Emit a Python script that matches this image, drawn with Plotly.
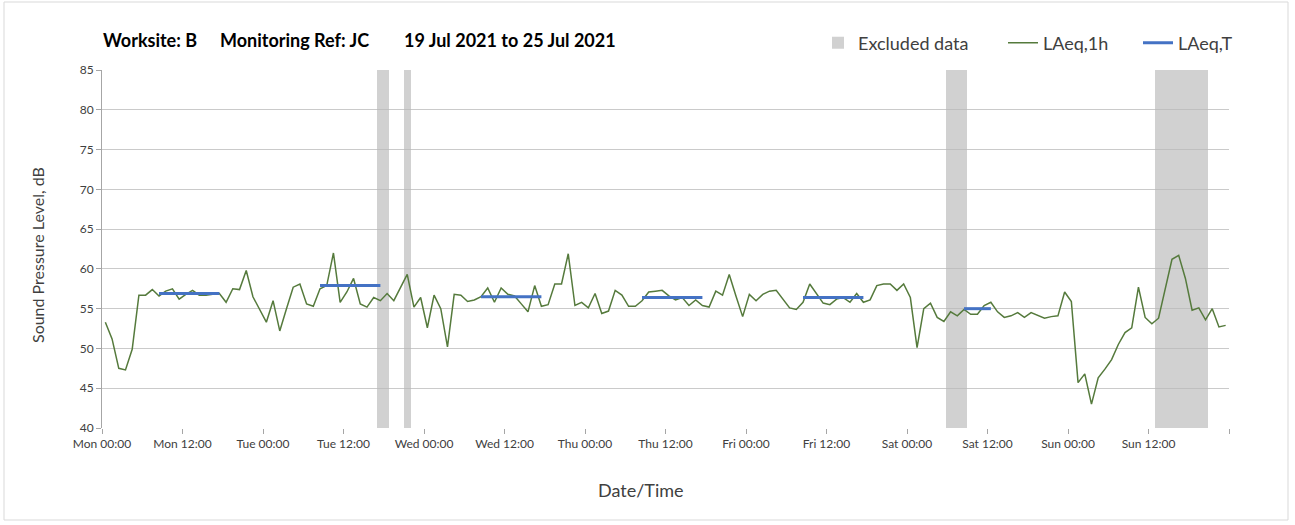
import plotly.graph_objects as go

# ---------------- data ----------------
hours = [i + 0.5 for i in range(168)]  # hour offset from Mon 19 Jul 2021 00:00
laeq_1h = [
    53.3, 51.2, 47.5, 47.3, 49.9, 56.7, 56.7, 57.4, 56.6, 57.2, 57.5, 56.2,
    56.8, 57.3, 56.7, 56.7, 56.8, 56.9, 55.8, 57.5, 57.4, 59.8, 56.5, 54.8,
    53.3, 56.0, 52.2, 55.0, 57.7, 58.1, 55.6, 55.3, 57.5, 57.9, 62.0, 55.8,
    57.1, 58.8, 55.6, 55.2, 56.4, 56.0, 56.9, 56.0, 57.7, 59.3, 55.2, 56.4,
    52.6, 56.7, 55.0, 50.2, 56.8, 56.7, 55.9, 56.1, 56.5, 57.6, 55.8, 57.6,
    56.8, 56.6, 55.6, 54.6, 57.9, 55.3, 55.5, 58.1, 58.1, 61.9, 55.4, 55.8,
    55.1, 56.9, 54.4, 54.7, 57.3, 56.7, 55.3, 55.3, 56.0, 57.1, 57.2, 57.3,
    56.6, 56.1, 56.4, 55.4, 56.1, 55.4, 55.2, 57.2, 56.7, 59.3, 56.6, 54.0,
    56.8, 56.0, 56.8, 57.2, 57.3, 56.2, 55.1, 54.9, 55.8, 58.1, 56.9, 55.7,
    55.5, 56.2, 56.4, 55.8, 56.9, 55.8, 56.1, 57.9, 58.1, 58.1, 57.3, 58.1,
    56.4, 50.1, 55.0, 55.7, 53.9, 53.4, 54.6, 54.1, 54.9, 54.3, 54.3, 55.4,
    55.8, 54.6, 53.9, 54.1, 54.5, 53.9, 54.5, 54.1, 53.8, 54.0, 54.1, 57.1,
    55.9, 45.7, 46.8, 43.0, 46.3, 47.4, 48.6, 50.5, 52.0, 52.6, 57.7, 53.9,
    53.1, 53.8, 57.5, 61.2, 61.7, 58.8, 54.8, 55.1, 53.6, 55.0, 52.7, 52.9,
]

# LAeq,T periods (hours from Monday 00:00) and levels
laeqT_start = [8.5, 32.5, 56.5, 80.5, 104.5, 128.5]
laeqT_end = [17.5, 41.5, 65.5, 89.5, 113.5, 132.5]
laeqT_value = [56.9, 57.9, 56.5, 56.4, 56.4, 55.0]

# Excluded data periods (hours from Monday 00:00)
excl_start = [41.0, 45.0, 125.8, 156.9]
excl_end = [42.8, 46.0, 128.9, 164.8]

# x tick labels
tick_hours = [0, 12, 24, 36, 48, 60, 72, 84, 96, 108, 120, 132, 144, 156, 168]
tick_labels = ["Mon 00:00", "Mon 12:00", "Tue 00:00", "Tue 12:00", "Wed 00:00",
               "Wed 12:00", "Thu 00:00", "Thu 12:00", "Fri 00:00", "Fri 12:00",
               "Sat 00:00", "Sat 12:00", "Sun 00:00", "Sun 12:00", ""]
grid_hours = [0, 24, 48, 72, 96, 120, 144, 168]

y_min, y_max = 40, 85

FONT = "Lato"
TXT = "#404040"

fig = go.Figure()

# excluded bands as bars
fig.add_trace(go.Bar(
    x=[(s + e) / 2 for s, e in zip(excl_start, excl_end)],
    y=[y_max - y_min] * len(excl_start),
    base=[y_min] * len(excl_start),
    width=[e - s for s, e in zip(excl_start, excl_end)],
    marker=dict(color="rgba(185,185,185,0.65)", line=dict(width=0)),
    name="Excluded data", hoverinfo="skip", xaxis="x2", legend="legend",
))

fig.add_trace(go.Scatter(
    x=hours, y=laeq_1h, mode="lines", name="LAeq,1h",
    line=dict(color="#557A3C", width=1.5), xaxis="x2", legend="legend2",
))

tx, ty = [], []
for s, e, v in zip(laeqT_start, laeqT_end, laeqT_value):
    tx += [s, e, None]
    ty += [v, v, None]
fig.add_trace(go.Scatter(
    x=tx, y=ty, mode="lines", name="LAeq,T",
    line=dict(color="#4472C4", width=3), xaxis="x2", legend="legend3",
))

# plot-area geometry in px (for paper-coordinate conversions)
PX_L, PX_R, PX_T, PX_B = 102, 1229, 70, 428
W, H = PX_R - PX_L, PX_B - PX_T


def px(xp):
    return (xp - PX_L) / W


def py(yp):
    return (PX_B - yp) / H


def leg(text_x):
    return dict(
        orientation="h", x=px(text_x - 40), xanchor="left", y=py(43),
        yanchor="middle", font=dict(size=18, color=TXT, family=FONT),
        bgcolor="rgba(0,0,0,0)", borderwidth=0, itemwidth=30,
    )


fig.update_layout(
    width=1295, height=525,
    margin=dict(l=PX_L, r=1295 - PX_R, t=PX_T, b=525 - PX_B),
    paper_bgcolor="white", plot_bgcolor="white",
    font=dict(family=FONT, color=TXT),
    barmode="overlay", bargap=0,
    xaxis=dict(
        range=[0, 168], tickvals=grid_hours, showticklabels=False, ticks="",
        showgrid=True, gridcolor="#D9D9D9", gridwidth=1, zeroline=False,
        showline=True, linecolor="#A6A6A6", linewidth=1,
    ),
    xaxis2=dict(
        range=[0, 168], overlaying="x", anchor="y", side="bottom",
        tickvals=tick_hours, ticktext=tick_labels, ticks="outside", ticklen=5,
        tickcolor="#A6A6A6", showgrid=False, zeroline=False, showline=False,
        tickfont=dict(size=12, color=TXT, family=FONT),
    ),
    yaxis=dict(
        range=[y_min, y_max], dtick=5, tick0=40, showgrid=True,
        gridcolor="#CACACA", gridwidth=1, zeroline=False,
        showline=True, linecolor="#A6A6A6", ticks="outside", ticklen=5,
        tickcolor="#A6A6A6", tickfont=dict(size=12, color=TXT, family=FONT),
    ),
    legend=leg(858),
    legend2=leg(1043),
    legend3=leg(1178),
    showlegend=True,
)

# titles
title_font = dict(size=18, color="#000000", family=FONT)
fig.add_annotation(text="<b>Worksite: B</b>", xref="paper", yref="paper",
                   x=px(101), y=py(40), xanchor="left", yanchor="middle",
                   showarrow=False, font=title_font)
fig.add_annotation(text="<b>Monitoring Ref: JC</b>", xref="paper", yref="paper",
                   x=px(218), y=py(40), xanchor="left", yanchor="middle",
                   showarrow=False, font=title_font)
fig.add_annotation(text="<b>19 Jul 2021 to 25 Jul 2021</b>", xref="paper", yref="paper",
                   x=px(402), y=py(40), xanchor="left", yanchor="middle",
                   showarrow=False, font=title_font)
fig.add_annotation(text="Date/Time", xref="paper", yref="paper",
                   x=px(641), y=py(490), xanchor="center", yanchor="middle",
                   showarrow=False, font=dict(size=18, color=TXT, family=FONT))
fig.add_annotation(text="Sound Pressure Level, dB", xref="paper", yref="paper",
                   x=px(38), y=py(255), xanchor="center", yanchor="middle",
                   textangle=-90, showarrow=False,
                   font=dict(size=16, color=TXT, family=FONT))

# chart-area border
fig.add_shape(type="rect", xref="paper", yref="paper",
              x0=px(4), x1=px(1288), y0=py(520), y1=py(2),
              line=dict(color="#D9D9D9", width=1), fillcolor="rgba(0,0,0,0)",
              layer="below")

fig.write_html("out.html", config={"displayModeBar": False},
               post_script="document.body.style.margin='0';")
